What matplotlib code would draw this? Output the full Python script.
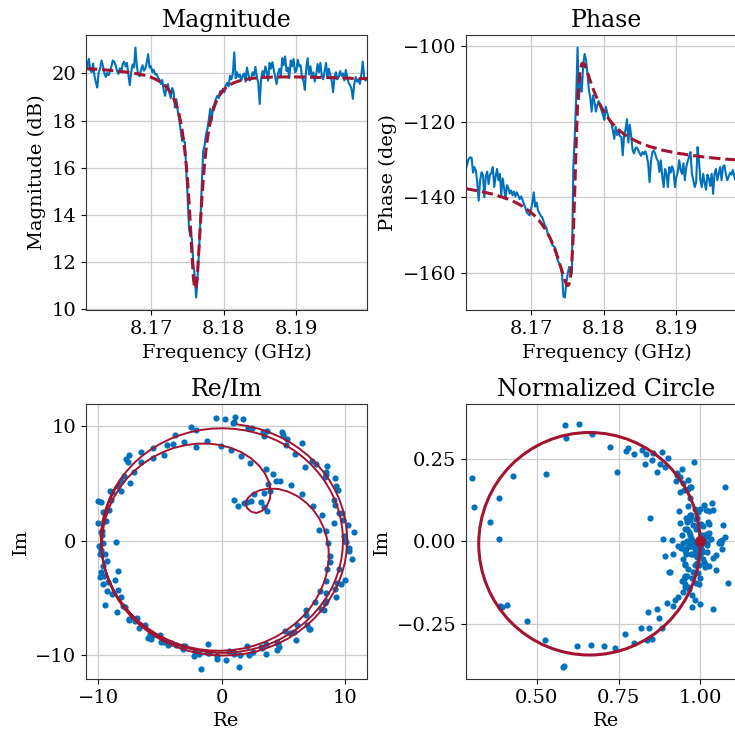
import numpy as np
import matplotlib
matplotlib.use("Agg")
import matplotlib.pyplot as plt
from matplotlib.patches import Circle

# ---------------- data ----------------
f_start, f_stop, n_points = 8.1610, 8.1998, 200   # frequency sweep (GHz)

mag_data = [
    20.55, 20.30, 20.62, 20.15, 20.05, 20.42, 19.90, 19.62, 19.40, 20.05,
    20.20, 20.55, 20.32, 20.00, 19.85, 20.02, 19.92, 20.08, 20.30, 20.55,
    20.50, 20.35, 20.10, 19.98, 20.22, 20.05, 20.40, 20.50, 20.30, 20.45,
    19.95, 19.50, 20.05, 20.38, 20.25, 21.10, 20.30, 19.95, 19.88, 20.15,
    20.35, 20.12, 20.20, 20.45, 20.82, 20.25, 20.30, 20.05, 20.15, 19.95,
    19.98, 19.82, 19.75, 19.55, 19.72, 19.30, 19.05, 19.40, 19.55, 19.20,
    18.95, 19.38, 19.25, 18.55, 18.90, 18.40, 18.05, 17.60, 17.15, 17.12,
    17.10, 15.90, 14.70, 13.35, 13.10, 13.00, 11.90, 11.40, 10.48, 11.30,
    12.40, 13.70, 15.30, 16.70, 16.95, 17.40, 17.65, 18.05, 18.50, 18.00,
    18.57, 18.70, 18.92, 19.05, 18.95, 19.25, 19.15, 19.35, 19.20, 19.50,
    19.60, 19.45, 19.90, 19.75, 20.00, 20.90, 19.80, 20.05, 19.85, 19.95,
    19.70, 19.90, 20.00, 19.65, 20.25, 19.95, 19.70, 19.80, 20.05, 19.92,
    20.28, 19.85, 19.60, 18.70, 19.75, 20.10, 19.88, 20.30, 20.05, 19.70,
    20.45, 20.20, 20.48, 20.15, 19.85, 19.55, 20.00, 20.20, 19.90, 20.65,
    20.35, 20.72, 20.10, 20.25, 19.80, 20.55, 20.30, 20.62, 20.05, 20.12,
    20.58, 20.30, 20.35, 19.82, 19.70, 19.30, 20.25, 20.65, 19.95, 20.30,
    19.80, 20.05, 19.65, 19.95, 20.40, 20.05, 20.45, 19.90, 19.75, 20.10,
    20.45, 19.80, 20.20, 19.95, 19.70, 19.20, 19.85, 20.05, 19.75, 19.85,
    20.10, 19.90, 20.00, 19.70, 20.15, 19.85, 19.60, 19.50, 19.35, 18.92,
    19.55, 19.85, 19.65, 19.75, 19.55, 19.95, 20.50, 19.85, 19.70, 19.80,
]

mag_fit = [
    20.21, 20.20, 20.20, 20.19, 20.19, 20.19, 20.18, 20.18, 20.17, 20.17,
    20.17, 20.16, 20.16, 20.15, 20.15, 20.14, 20.14, 20.13, 20.13, 20.12,
    20.12, 20.11, 20.10, 20.09, 20.09, 20.08, 20.07, 20.07, 20.06, 20.05,
    20.05, 20.04, 20.03, 20.02, 20.01, 20.00, 19.99, 19.98, 19.97, 19.95,
    19.94, 19.93, 19.91, 19.89, 19.87, 19.86, 19.84, 19.81, 19.79, 19.76,
    19.73, 19.70, 19.66, 19.62, 19.58, 19.53, 19.48, 19.42, 19.35, 19.27,
    19.18, 19.08, 18.95, 18.81, 18.65, 18.46, 18.22, 17.95, 17.61, 17.20,
    16.71, 16.12, 15.39, 14.50, 13.45, 12.40, 11.35, 10.85, 10.90, 11.55,
    12.55, 13.58, 14.60, 15.46, 16.18, 16.75, 17.23, 17.61, 17.94, 18.21,
    18.42, 18.61, 18.77, 18.90, 19.01, 19.11, 19.19, 19.27, 19.33, 19.39,
    19.43, 19.48, 19.52, 19.55, 19.58, 19.61, 19.63, 19.65, 19.67, 19.69,
    19.71, 19.72, 19.73, 19.74, 19.75, 19.77, 19.77, 19.78, 19.79, 19.80,
    19.80, 19.81, 19.81, 19.82, 19.82, 19.83, 19.83, 19.83, 19.84, 19.84,
    19.84, 19.84, 19.85, 19.85, 19.85, 19.85, 19.85, 19.85, 19.85, 19.85,
    19.85, 19.85, 19.85, 19.85, 19.85, 19.85, 19.85, 19.85, 19.85, 19.85,
    19.85, 19.85, 19.85, 19.85, 19.85, 19.84, 19.84, 19.84, 19.84, 19.84,
    19.84, 19.84, 19.84, 19.84, 19.83, 19.83, 19.83, 19.83, 19.83, 19.83,
    19.83, 19.83, 19.82, 19.82, 19.82, 19.82, 19.82, 19.81, 19.81, 19.81,
    19.81, 19.81, 19.81, 19.80, 19.80, 19.80, 19.80, 19.80, 19.79, 19.79,
    19.79, 19.79, 19.79, 19.79, 19.78, 19.78, 19.78, 19.78, 19.78, 19.78,
]

phase_data = [
    -132.4, -131.0, -129.8, -129.4, -129.6, -133.5, -132.0, -133.0, -136.0, -140.9,
    -135.5, -133.4, -134.0, -140.0, -134.5, -133.2, -136.5, -134.0, -133.5, -132.0,
    -137.3, -134.5, -132.5, -135.5, -133.8, -139.5, -135.0, -137.5, -140.5, -136.8,
    -137.5, -139.0, -138.2, -139.5, -138.5, -139.8, -138.7, -139.5, -140.5, -139.8,
    -140.6, -141.8, -142.7, -144.0, -144.4, -144.8, -143.5, -141.5, -138.7, -142.5,
    -141.4, -143.5, -144.2, -145.0, -145.3, -146.5, -147.5, -148.2, -149.8, -150.5,
    -151.0, -152.5, -153.0, -153.3, -154.5, -156.9, -157.5, -158.5, -160.4, -166.3,
    -166.6, -163.0, -160.4, -158.5, -160.0, -160.2, -132.0, -124.0, -114.1, -100.3,
    -114.0, -108.0, -112.0, -105.0, -102.0, -103.5, -107.1, -111.5, -113.5, -117.3,
    -113.0, -114.7, -117.3, -115.5, -114.5, -115.8, -117.0, -118.2, -119.5, -116.0,
    -117.5, -119.0, -120.0, -120.5, -122.2, -124.5, -121.3, -123.5, -122.5, -123.8,
    -124.0, -128.9, -123.5, -122.0, -119.3, -125.5, -120.8, -123.8, -127.5, -128.4,
    -127.0, -126.8, -127.5, -128.4, -129.0, -128.0, -128.6, -127.8, -129.0, -131.0,
    -136.0, -130.5, -128.0, -127.6, -128.5, -129.8, -130.4, -133.3, -130.2, -134.5,
    -137.3, -132.5, -133.8, -137.3, -132.0, -133.5, -131.8, -133.0, -137.3, -134.6,
    -133.2, -130.2, -132.8, -133.8, -131.0, -135.5, -132.0, -130.5, -129.3, -128.0,
    -133.8, -135.5, -137.3, -136.0, -126.7, -130.2, -135.5, -137.3, -133.8, -136.2,
    -138.0, -134.0, -135.0, -137.0, -133.8, -139.1, -133.8, -132.5, -135.5, -133.8,
    -132.0, -135.5, -132.0, -131.5, -133.8, -135.5, -134.6, -133.5, -134.0, -132.8,
    -134.5, -135.6, -134.0, -133.0, -135.0, -134.2, -133.5, -135.0, -134.0, -134.5,
]

phase_fit = [
    -137.75, -137.8, -137.9, -137.95, -138.0, -138.1, -138.15, -138.2, -138.3, -138.35,
    -138.4, -138.5, -138.6, -138.7, -138.75, -138.85, -138.95, -139.0, -139.1, -139.2,
    -139.3, -139.4, -139.5, -139.65, -139.8, -139.9, -140.0, -140.15, -140.25, -140.4,
    -140.55, -140.7, -140.85, -141.0, -141.2, -141.35, -141.55, -141.75, -141.95, -142.2,
    -142.4, -142.65, -142.9, -143.15, -143.45, -143.7, -144.05, -144.35, -144.7, -145.05,
    -145.46, -145.88, -146.31, -146.79, -147.29, -147.83, -148.41, -149.03, -149.69, -150.42,
    -151.19, -152.02, -152.91, -153.88, -154.92, -156.03, -157.19, -158.42, -159.67, -160.93,
    -162.06, -162.98, -163.44, -163.08, -161.23, -157.07, -149.63, -138.62, -126.21, -115.68,
    -109.5, -106.0, -104.6, -104.4, -104.9, -105.8, -106.9, -108.0, -109.1, -110.2,
    -111.2, -112.2, -113.1, -113.9, -114.7, -115.5, -116.2, -116.9, -117.5, -118.1,
    -118.65, -119.15, -119.65, -120.1, -120.55, -121.0, -121.4, -121.75, -122.1, -122.4,
    -122.7, -123.0, -123.3, -123.55, -123.8, -124.05, -124.25, -124.45, -124.65, -124.85,
    -125.05, -125.2, -125.4, -125.55, -125.7, -125.85, -126.0, -126.1, -126.25, -126.4,
    -126.55, -126.65, -126.75, -126.85, -126.95, -127.05, -127.15, -127.25, -127.35, -127.5,
    -127.6, -127.65, -127.75, -127.8, -127.9, -127.95, -128.05, -128.1, -128.2, -128.25,
    -128.35, -128.4, -128.45, -128.5, -128.55, -128.6, -128.7, -128.75, -128.8, -128.85,
    -128.9, -128.95, -129.0, -129.05, -129.1, -129.15, -129.2, -129.25, -129.3, -129.35,
    -129.4, -129.45, -129.5, -129.5, -129.55, -129.6, -129.6, -129.65, -129.7, -129.75,
    -129.75, -129.8, -129.8, -129.85, -129.9, -129.9, -129.95, -129.95, -130.0, -130.0,
    -130.05, -130.1, -130.1, -130.15, -130.15, -130.2, -130.2, -130.25, -130.25, -130.3,
]

# environment (cable delay / background) parameters
f_ref = 8.1761            # GHz
delay_ns = 73.16          # cable delay
phase_offset_deg = 183.2  # raw phase offset at f_ref
bg_db_start, bg_db_stop = 20.41, 19.95   # background amplitude (dB)
bg_phase_deg = -133.2                     # background phase

# fitted normalized circle
circle_center = (0.661, -0.007)
circle_radius = 0.339
off_resonance_point = (1.0, 0.0)

freq_ticks = [8.17, 8.18, 8.19]

# ---------------- derived quantities ----------------
f = np.linspace(f_start, f_stop, n_points)
mag_data = np.array(mag_data)
mag_fit = np.array(mag_fit)
phase_data = np.array(phase_data)
phase_fit = np.array(phase_fit)


def raw_iq(mag_db, phase_deg):
    r = 10 ** (mag_db / 20.0)
    ang = np.deg2rad(phase_deg + phase_offset_deg - 360.0 * delay_ns * (f - f_ref))
    return r * np.cos(ang), r * np.sin(ang)


re_data, im_data = raw_iq(mag_data, phase_data)
re_fit, im_fit = raw_iq(mag_fit, phase_fit)

bg_db = bg_db_start + (bg_db_stop - bg_db_start) * (f - f_start) / (f_stop - f_start)
norm_r = 10 ** ((mag_data - bg_db) / 20.0)
norm_ang = np.deg2rad(phase_data - bg_phase_deg)
re_norm = norm_r * np.cos(norm_ang)
im_norm = norm_r * np.sin(norm_ang)

# ---------------- style ----------------
BLUE = "#0072BD"
RED = "#A2142F"
plt.rcParams.update({
    "font.family": "DejaVu Serif",
    "font.size": 14,
    "axes.titlesize": 17,
    "axes.labelsize": 14,
    "xtick.labelsize": 14,
    "ytick.labelsize": 14,
    "axes.edgecolor": "#333333",
})

fig = plt.figure(figsize=(7.35, 7.30), dpi=100)
W = 0.3823
H = 0.3767
ax1 = fig.add_axes([0.1170, 0.5753, W, H])
ax2 = fig.add_axes([0.6340, 0.5753, W, H])
ax3 = fig.add_axes([0.1170, 0.0699, W, H])
ax4 = fig.add_axes([0.6340, 0.0699, W, H])

for ax in (ax1, ax2, ax3, ax4):
    ax.grid(True, color="#cccccc", linewidth=0.9)
    ax.set_axisbelow(True)

# Magnitude
ax1.plot(f, mag_data, color=BLUE, lw=1.5)
ax1.plot(f, mag_fit, color=RED, lw=2.2, ls="--")
ax1.set_xlim(f[0], f[-1])
ax1.set_xticks(freq_ticks)
ax1.ticklabel_format(axis="x", useOffset=False)
ax1.set_title("Magnitude")
ax1.set_xlabel("Frequency (GHz)")
ax1.set_ylabel("Magnitude (dB)")

# Phase
ax2.plot(f, phase_data, color=BLUE, lw=1.5)
ax2.plot(f, phase_fit, color=RED, lw=2.2, ls="--")
ax2.set_xlim(f[0], f[-1])
ax2.set_xticks(freq_ticks)
ax2.ticklabel_format(axis="x", useOffset=False)
ax2.set_title("Phase")
ax2.set_xlabel("Frequency (GHz)")
ax2.set_ylabel("Phase (deg)")

# Re/Im
ax3.scatter(re_data, im_data, s=20, color=BLUE, zorder=2, linewidths=0)
ax3.plot(re_fit, im_fit, color=RED, lw=1.4, zorder=3)
ax3.set_xlim(-11.0, 11.76)
ax3.set_ylim(-12.07, 11.95)
ax3.set_xticks([-10, 0, 10])
ax3.set_yticks([-10, 0, 10])
ax3.set_title("Re/Im")
ax3.set_xlabel("Re")
ax3.set_ylabel("Im")

# Normalized circle
ax4.scatter(re_norm, im_norm, s=20, color=BLUE, zorder=2, linewidths=0)
ax4.add_patch(Circle(circle_center, circle_radius, fill=False, edgecolor=RED, lw=2.2, zorder=3))
ax4.plot([off_resonance_point[0]], [off_resonance_point[1]], "o", color=RED, ms=7, zorder=4)
ax4.set_xlim(0.283, 1.143)
ax4.set_ylim(-0.419, 0.419)
ax4.set_xticks([0.50, 0.75, 1.00])
ax4.set_yticks([-0.25, 0.00, 0.25])
ax4.set_title("Normalized Circle")
ax4.set_xlabel("Re")
ax4.set_ylabel("Im")

fig.savefig("out.png", dpi=100)
